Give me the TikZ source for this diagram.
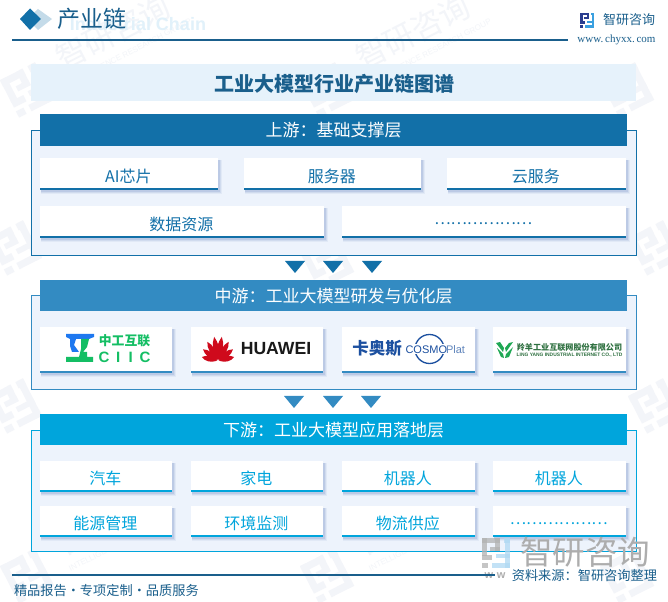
\documentclass[tikz,border=0pt]{standalone}
\usepackage{fontspec}
\setmainfont{Noto Sans CJK SC}
\newfontfamily\latinb{Liberation Sans}
\newfontfamily\serifl{Liberation Serif}
\usetikzlibrary{calc}
\definecolor{upc}{HTML}{1270A8}
\definecolor{midc}{HTML}{338BC2}
\definecolor{lowc}{HTML}{00A5DC}
\definecolor{panel}{HTML}{EDF3FC}
\definecolor{band}{HTML}{E6F2FB}
\definecolor{navy}{HTML}{1A5F8C}
\definecolor{wmc}{HTML}{F3F5F9}
\definecolor{shad}{HTML}{8FA6D2}
\definecolor{icond}{HTML}{2A3D8F}
\definecolor{iconl}{HTML}{3AA0E0}
\definecolor{ciicb}{HTML}{1E78F0}
\definecolor{ciicg}{HTML}{14BE64}
\definecolor{cosmo}{HTML}{1C50A0}
\definecolor{lingg}{HTML}{1FA854}
\definecolor{lingt}{HTML}{2E7040}
\definecolor{hwred}{HTML}{CF0A1C}
\newcommand{\pxfont}[1]{\fontsize{\dimexpr#1pt*3/4\relax}{\dimexpr#1pt*3/4\relax}\selectfont}
\tikzset{
  x=0.75pt,y=-0.75pt,
  txt/.style={inner sep=0pt,outer sep=0pt,anchor=center},
  wmtext/.style={txt,text=wmc},
}
\newcommand{\iconshape}[2]{%
  \fill[#1] (0,0) rectangle (9,2.5);
  \fill[#1] (0,0) rectangle (2.5,9);
  \fill[#1] (0,8.5) rectangle (5,11);
  \fill[#1] (0,12.5) rectangle (3,15);
  \fill[#1] (4,4.5) rectangle (9,6.5);
  \fill[#1] (6.5,0) rectangle (9,6.5);
  \fill[#2] (11,0) rectangle (14,2.5);
  \fill[#2] (11.5,0) rectangle (14,15);
  \fill[#2] (7,8) rectangle (14,10);
  \fill[#2] (5,12.5) rectangle (14,15);
}
\newcommand{\wmlogo}[2]{%
  \begin{scope}[shift={(#1,#2)},rotate=27]
    \begin{scope}[scale=2.8,shift={(-7,-7.5)}]\iconshape{wmc}{wmc}\end{scope}
  \end{scope}
}
\newcommand{\wm}[2]{%
  \wmlogo{#1}{#2}
  \node[wmtext,rotate=27,font=\pxfont{31}] at ($(#1,#2)+(86,-58)$) {智研咨询};
  \node[wmtext,rotate=27,font=\latinb\pxfont{8}] at ($(#1,#2)+(103,-38)$) {INTELLIGENCE RESEARCH GROUP};
}
\newcommand{\cardbg}[6]{%
  \fill[shad,opacity=.12] (#2+1,#3+2) rectangle (#4+4,#5+4);
  \fill[shad,opacity=.20] (#2+1,#3+2) rectangle (#4+3,#5+3);
  \fill[shad,opacity=.30] (#2+1,#3+2) rectangle (#4+2,#5+2);
  \fill[white] (#2,#3) rectangle (#4,#5);
  \fill[#6] (#2,#5-1.7) rectangle (#4,#5);
  \coordinate (#1) at ({(#2+#4)/2-0.7},{(#3+#5)/2+2});
}
\newcommand{\card}[7]{%
  \cardbg{#1}{#2}{#3}{#4}{#5}{#6}
  \node[txt,text=#6,font=\pxfont{16}] (#1t) at (#1) {#7};
}
\newcommand{\tri}[3]{\fill[#3] (#1-10,#2) -- (#1+10,#2) -- (#1,#2+12) -- cycle;}
\begin{document}
\begin{tikzpicture}
\useasboundingbox (0,0) rectangle (668,602);
\fill[white] (0,0) rectangle (668,602);
\wm{27}{90}\wm{327}{90}\wmlogo{627}{90}
\wmlogo{15}{248}\wmlogo{655}{248}\wmlogo{327}{262}
\wmlogo{15}{406}\wmlogo{655}{406}
\wm{27}{576}\wm{327}{576}\wmlogo{627}{576}
\node[txt,text=iconl!15,font=\latinb\bfseries\pxfont{18}] (subtitle) at (138,24) {Industrial Chain};
\fill[upc!25] (38,9) -- (52,19) -- (38,30) -- (27,19) -- cycle;
\fill[upc] (30,8.5) -- (41,19) -- (30,30) -- (20,19) -- cycle;
\node[txt,text=navy,font=\pxfont{23}] (hdr) at (92,19) {产业链};
\draw[navy,line width=.9pt] (12,40) -- (568,40);
\begin{scope}[shift={(580,13)}]\iconshape{icond}{iconl}\end{scope}
\node[txt,text=navy,font=\pxfont{13}] (brand) at (629,20) {智研咨询};
\node[txt,text=navy,font=\serifl\pxfont{11}] (url) at (616.5,40) {www.\,chyxx.\,com};
\fill[band] (31,64) rectangle (636,101);
\node[txt,text=navy,font=\bfseries\pxfont{20}] (title) at (334,84) {工业大模型行业产业链图谱};
\draw[upc,fill=panel,line width=.7pt] (31,130) rectangle (636,255);
\fill[upc] (40,114) rectangle (627,146);
\node[txt,text=white,font=\pxfont{17}] (uph) at (333.5,130) {上游：基础支撑层};
\card{u1}{40}{158}{218}{190}{upc}{AI芯片}
\card{u2}{244}{158}{421}{190}{upc}{服务器}
\card{u3}{447}{158}{626}{190}{upc}{云服务}
\card{u4}{40}{206}{324}{238}{upc}{数据资源}
\card{u5}{342}{206}{626}{238}{upc}{\pxfont{15.4}………………}
\tri{295}{261}{upc}\tri{333}{261}{upc}\tri{372}{261}{upc}
\draw[midc,fill=panel,line width=.7pt] (31,295) rectangle (636,389);
\fill[midc] (40,280) rectangle (627,311);
\node[txt,text=white,font=\pxfont{17}] (midh) at (333.5,296) {中游：工业大模型研发与优化层};
\cardbg{m1}{40}{327}{172}{373}{midc}
\cardbg{m2}{191}{327}{323}{373}{midc}
\cardbg{m3}{342}{327}{475}{373}{midc}
\cardbg{m4}{493}{327}{626}{373}{midc}
% CIIC logo
\fill[ciicb] (66,334) -- (94,334) -- (94,337) -- (89,339) -- (70,339) -- (66,337) -- cycle;
\fill[ciicb] (70,339) -- (76,339) -- (74,345) -- (79,352) -- (72,352) -- (70,346) -- cycle;
\fill[ciicg] (81,339) -- (89,339) -- (87,347) -- (83,352) -- (87,352) -- (87,357) -- (93,357) -- (93,362) -- (66,362) -- (66,357) -- (79,357) -- (81,349) -- cycle;
\node[txt,text=ciicg,font=\bfseries\pxfont{12.8}] (ciiccn) at (124.5,341) {中工互联};
\node[txt,text=ciicg,font=\latinb\bfseries\pxfont{15}] (ciicen) at (124.5,357) {C\hspace{.45em}I\hspace{.55em}I\hspace{.45em}C};
% Huawei logo
\foreach \a/\l in {-76/16.5,-52/19,-29/22,-9/24.5,9/24.5,29/22,52/19,76/16.5}{
  \begin{scope}[shift={(218,361)},rotate=\a]
    \fill[hwred] (0,-1) .. controls (-3.6,-\l*.4) and (-3.6,-\l*.75) .. (0,-\l) .. controls (3.6,-\l*.75) and (3.6,-\l*.4) .. (0,-1) -- cycle;
  \end{scope}
}
\node[txt,text=black!90,font=\latinb\bfseries\pxfont{17.6}] (hw) at (276,349) {HUAWEI};
% Cosmoplat logo
\node[txt,text=cosmo,font=\bfseries\pxfont{16.5}] (kas) at (377,348.5) {卡奥斯};
\draw[cosmo,line width=1pt] (429.5,349) circle (14.5);
\fill[white] (404,344) rectangle (468,354);
\node[txt,text=cosmo,font=\latinb\pxfont{11},anchor=west] (cosmot) at (405.5,349.5) {COSMO};
\node[txt,text=cosmo!70,font=\latinb\pxfont{11},anchor=west] (plat) at (446,349.5) {Plat};
% Lingyang logo
\fill[lingg] (496,343) -- (500,342) -- (504,348) -- (503,352) -- cycle;
\fill[lingg] (513,342) -- (509,343) -- (505,348) -- (506,352) -- cycle;
\fill[lingg] (497,348) -- (503,354) -- (504,358) -- (501,357) -- cycle;
\fill[lingg] (513,347) -- (506,354) -- (505,358) -- (509,357) -- cycle;
\node[txt,text=lingt,font=\bfseries\pxfont{8.1}] (lycn) at (569.5,347) {羚羊工业互联网股份有限公司};
\node[txt,text=lingt,font=\latinb\bfseries\pxfont{4.9}] (lyen) at (569.5,355.5) {LING YANG INDUSTRIAL INTERNET CO., LTD};
\tri{294}{396}{midc}\tri{333}{396}{midc}\tri{371}{396}{midc}
\draw[lowc,fill=panel,line width=.7pt] (31,430) rectangle (636,551);
\fill[lowc] (40,414) rectangle (627,445);
\node[txt,text=white,font=\pxfont{17}] (lowh) at (333.5,430) {下游：工业大模型应用落地层};
\card{d1}{40}{461}{172}{492}{lowc}{汽车}
\card{d2}{191}{461}{323}{492}{lowc}{家电}
\card{d3}{342}{461}{475}{492}{lowc}{机器人}
\card{d4}{493}{461}{626}{492}{lowc}{机器人}
\card{d5}{40}{506}{172}{537}{lowc}{能源管理}
\card{d6}{191}{506}{323}{537}{lowc}{环境监测}
\card{d7}{342}{506}{475}{537}{lowc}{物流供应}
\card{d8}{493}{506}{626}{537}{lowc}{\pxfont{15.4}………………}
% footer
\begin{scope}[shift={(482,538)},scale=2,opacity=.75]\iconshape{black!30}{iconl!40}\end{scope}
\node[txt,text=black!32,font=\pxfont{32.5}] (bigbrand) at (585,552) {智研咨询};
\node[txt,text=black!32,font=\latinb\bfseries\pxfont{11}] (ww) at (495,576) {w\,\,w};
\draw[navy,line width=.9pt] (12,575) -- (495,575);
\node[txt,text=navy,font=\pxfont{13.2},anchor=west] (foot) at (14,590) {精品报告·专项定制·品质服务};
\node[txt,text=navy,font=\pxfont{13.2},anchor=east] (src) at (657,576) {资料来源：智研咨询整理};
\end{tikzpicture}
\end{document}
